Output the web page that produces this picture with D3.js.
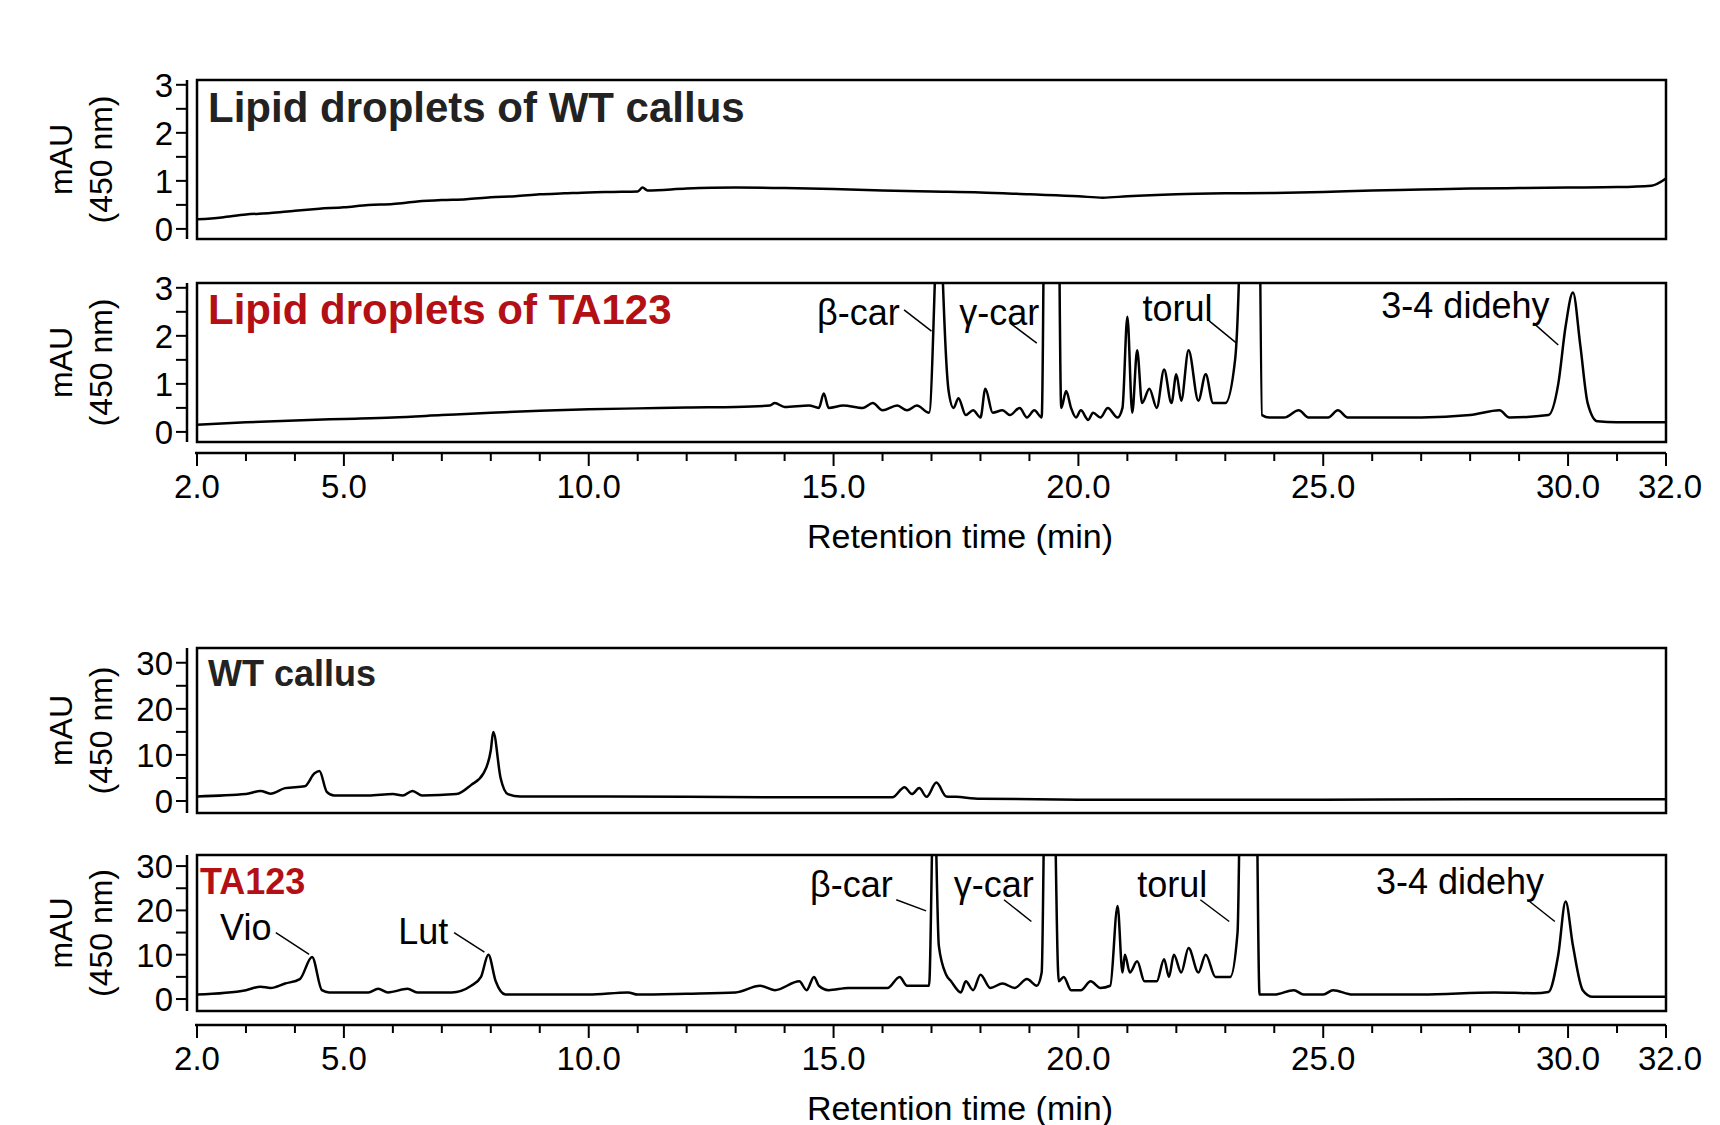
<!DOCTYPE html>
<html>
<head>
<meta charset="utf-8">
<script src="https://cdn.jsdelivr.net/npm/d3@7"></script>
<style>
body { margin: 0; background: #fff; }
svg text { font-family: "Liberation Sans", Arial, sans-serif; }
</style>
</head>
<body>
<div id="root"></div>
<script>
// retention time (min) / absorbance (mAU)
const ldWtTime = [2, 2.5, 3, 3.5, 4, 4.5, 5, 5.5, 6, 6.5, 7, 7.5, 8, 8.5, 9, 9.5, 10, 10.5, 11, 11.1, 11.2, 12, 13, 14, 15, 16, 17, 18, 19, 20, 20.5, 21, 22, 23, 24, 25, 26, 27, 28, 29, 30, 31, 31.7, 32];
const ldWtVal  = [0.2, 0.24, 0.3, 0.33, 0.38, 0.42, 0.45, 0.5, 0.52, 0.57, 0.6, 0.62, 0.66, 0.68, 0.72, 0.74, 0.76, 0.77, 0.78, 0.86, 0.8, 0.84, 0.86, 0.85, 0.83, 0.8, 0.78, 0.76, 0.72, 0.68, 0.65, 0.68, 0.72, 0.74, 0.75, 0.77, 0.8, 0.82, 0.84, 0.85, 0.86, 0.87, 0.9, 1.05];

const ldTaTime = [2, 3, 4, 5, 6, 7, 8, 9, 10, 11, 12, 13, 13.7, 13.8, 14, 14.5, 14.7, 14.8, 14.9, 15.2, 15.6, 15.8, 16, 16.3, 16.5, 16.7, 16.95, 17.08, 17.15, 17.22, 17.35, 17.45, 17.55, 17.7, 17.85, 18, 18.1, 18.25, 18.45, 18.6, 18.8, 18.95, 19.1, 19.25, 19.35, 19.55, 19.65, 19.75, 19.85, 19.95, 20.05, 20.2, 20.3, 20.45, 20.6, 20.8, 20.9, 21.0, 21.1, 21.2, 21.3, 21.45, 21.6, 21.75, 21.9, 22.0, 22.1, 22.25, 22.45, 22.6, 22.75, 22.85, 23.0, 23.2, 23.3, 23.4, 23.65, 23.75, 23.9, 24.2, 24.5, 24.7, 25.1, 25.3, 25.5, 26, 27, 28, 28.6, 28.8, 29.6, 29.8, 29.95, 30.1, 30.25, 30.4, 30.6, 31, 32];
const ldTaVal  = [0.15, 0.2, 0.24, 0.27, 0.3, 0.35, 0.4, 0.44, 0.47, 0.49, 0.51, 0.52, 0.55, 0.6, 0.52, 0.55, 0.5, 0.8, 0.5, 0.55, 0.5, 0.6, 0.45, 0.55, 0.45, 0.55, 0.4, 3.5, 6, 3.5, 0.85, 0.5, 0.7, 0.35, 0.45, 0.3, 0.9, 0.4, 0.45, 0.35, 0.5, 0.3, 0.45, 0.3, 10, 10, 0.5, 0.85, 0.5, 0.3, 0.45, 0.25, 0.4, 0.3, 0.5, 0.3, 0.5, 2.4, 0.4, 1.7, 0.6, 0.9, 0.5, 1.3, 0.6, 1.2, 0.65, 1.7, 0.65, 1.2, 0.6, 0.6, 0.6, 1.5, 4, 10, 10, 0.35, 0.3, 0.3, 0.45, 0.3, 0.3, 0.45, 0.3, 0.3, 0.3, 0.35, 0.45, 0.3, 0.35, 1.0, 2.2, 2.9, 1.8, 0.6, 0.22, 0.2, 0.2];

const cWtTime = [2, 3, 3.3, 3.5, 3.8, 4.2, 4.4, 4.5, 4.65, 4.8, 5.5, 6.0, 6.2, 6.4, 6.6, 7.3, 7.6, 7.85, 8.0, 8.05, 8.2, 8.35, 8.6, 9, 10, 12, 14, 16.2, 16.45, 16.6, 16.75, 16.9, 17.1, 17.3, 17.5, 18, 20, 22, 25, 28, 32];
const cWtVal  = [1.0, 1.5, 2.2, 1.6, 2.8, 3.2, 6.0, 6.5, 2.0, 1.2, 1.2, 1.5, 1.2, 2.2, 1.2, 1.5, 3.5, 6.0, 11, 15, 5, 1.5, 1.0, 1.0, 1.0, 0.9, 0.8, 0.8, 3.0, 1.5, 2.8, 0.9, 4.0, 1.0, 0.9, 0.5, 0.3, 0.3, 0.3, 0.4, 0.4];

const cTaTime = [2, 3, 3.3, 3.5, 3.8, 4.1, 4.35, 4.55, 4.7, 5.5, 5.7, 5.9, 6.3, 6.5, 7.2, 7.6, 7.8, 7.95, 8.1, 8.3, 9, 10, 10.8, 11, 12, 13, 13.5, 13.8, 14.3, 14.45, 14.6, 14.7, 14.9, 15.3, 15.7, 16.1, 16.35, 16.5, 16.8, 16.95, 17.05, 17.15, 17.3, 17.4, 17.6, 17.7, 17.85, 18.0, 18.2, 18.45, 18.7, 18.95, 19.15, 19.25, 19.35, 19.45, 19.6, 19.7, 19.85, 20.05, 20.25, 20.45, 20.65, 20.8, 20.9, 20.95, 21.05, 21.2, 21.35, 21.6, 21.75, 21.85, 21.95, 22.1, 22.25, 22.45, 22.6, 22.8, 23.1, 23.25, 23.35, 23.5, 23.6, 23.7, 24.0, 24.4, 24.6, 25.0, 25.2, 25.6, 27, 28.5, 29.3, 29.6, 29.8, 29.95, 30.1, 30.3, 30.5, 31, 32];
const cTaVal  = [1.0, 2.0, 2.8, 2.5, 3.5, 4.5, 9.5, 2.0, 1.5, 1.5, 2.3, 1.5, 2.3, 1.5, 1.5, 3.0, 5.0, 10, 4.0, 1.0, 1.0, 1.0, 1.5, 1.0, 1.2, 1.5, 3.0, 2.0, 4.0, 2.0, 5.0, 3.0, 2.0, 2.5, 2.5, 2.5, 5.0, 3.0, 3.0, 3.0, 50, 12, 5.5, 4.0, 1.5, 4.0, 2.0, 5.5, 2.5, 3.5, 2.5, 4.5, 3.0, 6, 80, 80, 4.0, 5.0, 2.0, 2.0, 4.0, 2.5, 3.0, 21, 6.0, 10, 6.0, 8.5, 4.0, 4.0, 9.0, 5.0, 10, 6.0, 11.5, 6.0, 10, 5.0, 5.0, 15, 80, 80, 80, 1.0, 1.0, 2.0, 1.0, 1.0, 2.0, 1.0, 1.0, 1.5, 1.3, 1.6, 10, 22, 12, 2.0, 0.5, 0.5, 0.5];

const xTicks = [2, 5, 10, 15, 20, 25, 30, 32];
const yTicksLd = [0, 1, 2, 3];
const yTicksCallus = [0, 10, 20, 30];

// annotations: label, text end (t, v), leader from (t1,v1) to (t2,v2)
const annLd = [
	["β-car", 16.35, 2.22, 16.44, 2.54, 17.0, 2.1],
	["γ-car", 19.2, 2.22, 18.6, 2.27, 19.15, 1.85],
	["torul", 22.74, 2.31, 22.67, 2.31, 23.23, 1.85],
	["3-4 didehy", 29.62, 2.38, 29.29, 2.27, 29.8, 1.81]
];
const annCallus = [
	["β-car", 16.21, 23.1, 16.28, 22.4, 16.89, 19.9],
	["γ-car", 19.09, 23.1, 18.48, 22.4, 19.04, 17.5],
	["torul", 22.63, 23.1, 22.49, 22.4, 23.08, 17.5],
	["3-4 didehy", 29.51, 23.6, 29.17, 22.4, 29.73, 17.5],
	["Vio", 3.52, 13.3, 3.61, 15, 4.29, 10.1],
	["Lut", 7.13, 12.5, 7.25, 15, 7.87, 10.6]
];

const W = 1720, H = 1125;
const left = 197, right = 1666;

const svg = d3.select("#root").append("svg").attr("width", W).attr("height", H);
const x = d3.scaleLinear().domain([2, 32]).range([left, right]);

function panel(top, bottom, yDomain, yTicks, minorStep, time, vals, title, titleColor, titleSize, titleY, titleX, anns) {
	const y = d3.scaleLinear().domain(yDomain).range([bottom, top]);
	const id = "clip" + top;
	svg.append("clipPath").attr("id", id).append("rect")
		.attr("x", left).attr("y", top).attr("width", right - left).attr("height", bottom - top);

	// left axis as separate line
	const ax = svg.append("g").attr("transform", "translate(187,0)");
	ax.append("line").attr("y1", top).attr("y2", bottom).attr("stroke", "#000").attr("stroke-width", 2.5);
	const minor = d3.range(yTicks[0], yTicks[yTicks.length - 1] + 0.001, minorStep);
	ax.selectAll(".mt").data(minor).enter().append("line")
		.attr("x1", -11).attr("x2", 0).attr("y1", d => y(d)).attr("y2", d => y(d))
		.attr("stroke", "#000").attr("stroke-width", 2);
	ax.selectAll(".tl").data(yTicks).enter().append("text")
		.attr("x", -14).attr("y", d => y(d)).attr("dy", "0.36em")
		.attr("text-anchor", "end").attr("font-size", 33).text(d => d);

	// y title
	const cy = (top + bottom) / 2;
	svg.append("text").attr("transform", `translate(72,${cy}) rotate(-90)`)
		.attr("text-anchor", "middle").attr("font-size", 32).text("mAU");
	svg.append("text").attr("transform", `translate(112,${cy}) rotate(-90)`)
		.attr("text-anchor", "middle").attr("font-size", 32).text("(450 nm)");

	svg.append("rect").attr("x", left).attr("y", top).attr("width", right - left).attr("height", bottom - top)
		.attr("fill", "none").attr("stroke", "#000").attr("stroke-width", 2.5);

	const line = d3.line().x(d => x(d[0])).y(d => y(d[1])).curve(d3.curveMonotoneX);
	svg.append("path").datum(d3.zip(time, vals))
		.attr("clip-path", `url(#${id})`)
		.attr("d", line).attr("fill", "none").attr("stroke", "#000").attr("stroke-width", 2.5)
		.attr("stroke-linejoin", "round");

	svg.append("text").attr("x", titleX).attr("y", titleY)
		.attr("font-size", titleSize).attr("font-weight", "bold").attr("fill", titleColor).text(title);

	anns.forEach(a => {
		svg.append("text").attr("x", x(a[1])).attr("y", y(a[2]))
			.attr("text-anchor", "end").attr("font-size", 36).text(a[0]);
		svg.append("line").attr("x1", x(a[3])).attr("y1", y(a[4])).attr("x2", x(a[5])).attr("y2", y(a[6]))
			.attr("stroke", "#000").attr("stroke-width", 1.5);
	});
}

function xAxis(yPos) {
	const g = svg.append("g").attr("transform", `translate(0,${yPos})`);
	g.append("line").attr("x1", left - 2).attr("x2", right).attr("stroke", "#000").attr("stroke-width", 2.5);
	g.selectAll(".t").data(d3.range(2, 32.001, 1)).enter().append("line")
		.attr("x1", d => x(d)).attr("x2", d => x(d)).attr("y1", 0)
		.attr("y2", d => xTicks.includes(d) ? 13 : 8)
		.attr("stroke", "#000").attr("stroke-width", 2);
	g.selectAll(".l").data(xTicks).enter().append("text")
		.attr("x", d => x(d) + (d === 32 ? 4 : 0)).attr("y", 45).attr("text-anchor", "middle")
		.attr("font-size", 33).text(d => d.toFixed(1));
	g.append("text").attr("x", 960).attr("y", 95).attr("text-anchor", "middle")
		.attr("font-size", 34).text("Retention time (min)");
}

panel(80, 239, [-0.21, 3.1], yTicksLd, 0.5, ldWtTime, ldWtVal, "Lipid droplets of WT callus", "#222", 42, 122, 208, []);
panel(283, 442, [-0.21, 3.1], yTicksLd, 0.5, ldTaTime, ldTaVal, "Lipid droplets of TA123", "#b30f15", 42, 324, 208, annLd);
xAxis(453);
panel(648, 813, [-2.6, 33.2], yTicksCallus, 5, cWtTime, cWtVal, "WT callus", "#222", 36, 686, 208, []);
panel(855, 1011, [-2.7, 32.5], yTicksCallus, 5, cTaTime, cTaVal, "TA123", "#b30f15", 36, 894, 200, annCallus);
xAxis(1025);
</script>
</body>
</html>
